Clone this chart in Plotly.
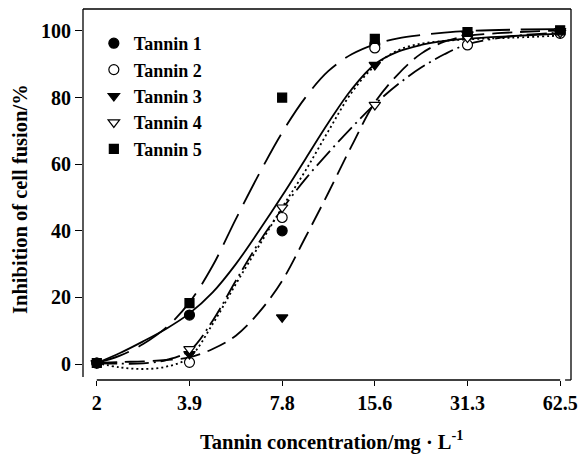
import plotly.graph_objects as go

# ---- data ----
conc_labels = ["2", "3.9", "7.8", "15.6", "31.3", "62.5"]
names = ["Tannin 1", "Tannin 2", "Tannin 3", "Tannin 4", "Tannin 5"]

tannin1 = [0.3, 14.7, 40.0, 96.0, 98.6, 99.5]
tannin2 = [0.3, 0.5, 44.0, 94.9, 95.8, 99.3]
tannin3 = [0.3, 3.0, 14.0, 89.8, 99.0, 100.0]
tannin4 = [0.3, 4.5, 47.0, 77.8, 98.0, 99.5]
tannin5 = [0.3, 18.3, 80.0, 97.6, 99.7, 100.2]

# fitted curves, read at positions along the (log2-spaced) concentration axis, in tick units
curve_pos = [0, 0.25, 0.5, 0.75, 1.0, 1.25, 1.5, 1.75, 2.0, 2.25, 2.5, 2.75, 3.0, 3.25, 3.5, 3.75, 4.0, 4.5, 5.0]
fit1 = [0.3, 3.3, 6.8, 10.6, 15.2, 21.5, 30, 40, 50.5, 61.5, 72.5, 82.5, 90, 93.8, 95.8, 97, 97.7, 98.5, 99.2]
fit2 = [0.3, -1.0, -1.5, -0.8, 2, 12, 24, 35.5, 47, 58, 70, 81.5, 89.5, 94.2, 96.2, 97, 97.5, 98, 98.6]
fit3 = [0.3, 0.6, 0.8, 1.2, 2, 4.5, 8.5, 15.5, 25, 38, 51.5, 65.5, 78.5, 87, 93.2, 96.8, 98.5, 99.6, 100.1]
fit4 = [0.3, 0.1, 0.2, 1.2, 4, 13, 25, 36.5, 46.5, 55.5, 63.5, 71, 78, 84, 89, 93, 96, 98.5, 99.5]
fit5 = [0.3, 2.5, 6, 11, 18.5, 29.5, 43.5, 57, 69.5, 80, 88, 93, 96, 97.8, 98.8, 99.5, 100, 100.4, 100.6]

points = [tannin1, tannin2, tannin3, tannin4, tannin5]
fits = [fit1, fit2, fit3, fit4, fit5]

# ---- styles ----
symbols = ["circle", "circle", "triangle-down", "triangle-down", "square"]
fills = ["black", "white", "black", "white", "black"]
sizes = [10, 10, 10, 10, 9]
dashes = ["solid", "2px,3px", "20px,8px", "20px,5px,2px,5px", "34px,11px"]

pos = list(range(len(conc_labels)))

fig = go.Figure()
for fy, d in zip(fits, dashes):
    fig.add_trace(go.Scatter(
        x=curve_pos, y=fy, mode="lines", line=dict(color="black", width=1.8, dash=d, shape="spline"),
        showlegend=False, hoverinfo="skip"))
for nm, py, s, f, sz in zip(names, points, symbols, fills, sizes):
    fig.add_trace(go.Scatter(
        x=pos, y=py, mode="markers", name="<b>%s</b>" % nm,
        marker=dict(symbol=s, size=sz, color=f, line=dict(color="black", width=1.2))))

font_family = "Liberation Serif"
W, H = 585, 455
L, R, T, B = 83, 7, 9, 75
pw, ph = W - L - R, H - T - B

def px(xp):
    return (xp - L) / pw

def py_(yp):
    return (H - B - yp) / ph

fig.update_layout(
    width=W, height=H,
    margin=dict(l=L, r=R, t=T, b=B),
    paper_bgcolor="white", plot_bgcolor="white",
    font=dict(family=font_family, size=20, color="black"),
    showlegend=True,
    legend=dict(x=px(94), y=py_(25), xanchor="left", yanchor="top",
                bgcolor="rgba(0,0,0,0)", font=dict(family=font_family, size=18, color="black"),
                tracegroupgap=0, itemwidth=30),
    xaxis=dict(range=[-0.149, 5.117], tickvals=pos, ticktext=["<b>%s</b>" % c for c in conc_labels],
               showgrid=False, zeroline=False, showline=False,
               ticks="outside", ticklen=5, tickwidth=1.2, tickcolor="black",
               tickfont=dict(family=font_family, size=20, color="black")),
    yaxis=dict(range=[-4.8, 106.6], tickvals=[0, 20, 40, 60, 80, 100],
               ticktext=["<b>%d</b>" % v for v in [0, 20, 40, 60, 80, 100]],
               showgrid=False, zeroline=False, showline=False,
               ticks="outside", ticklen=7, tickwidth=1.2, tickcolor="black",
               tickfont=dict(family=font_family, size=20, color="black")),
    shapes=[
        dict(type="line", xref="x", yref="paper", x0=0, x1=5, y0=0, y1=0, line=dict(color="black", width=1.3)),
        dict(type="line", xref="paper", yref="paper", x0=0, x1=0, y0=py_(377), y1=1, line=dict(color="black", width=1.3)),
        dict(type="line", xref="paper", yref="paper", x0=0, x1=1, y0=1, y1=1, line=dict(color="black", width=1.3)),
        dict(type="line", xref="paper", yref="paper", x0=1, x1=1, y0=0, y1=1, line=dict(color="black", width=1.3)),
        dict(type="line", xref="paper", yref="paper", x0=px(572), x1=1, y0=0, y1=0, line=dict(color="black", width=1.3)),
    ],
    annotations=[
        dict(text="<b>Inhibition of cell fusion/%</b>", xref="paper", yref="paper",
             x=px(19), y=py_(199), textangle=-90, showarrow=False, xanchor="center", yanchor="middle",
             font=dict(family=font_family, size=20.5, color="black")),
        dict(text="<b>Tannin concentration/mg · L<sup>-1</sup></b>", xref="paper", yref="paper",
             x=px(336), y=py_(440), showarrow=False, xanchor="center", yanchor="middle",
             font=dict(family=font_family, size=20.5, color="black")),
    ],
)
fig.write_html("out.html")
